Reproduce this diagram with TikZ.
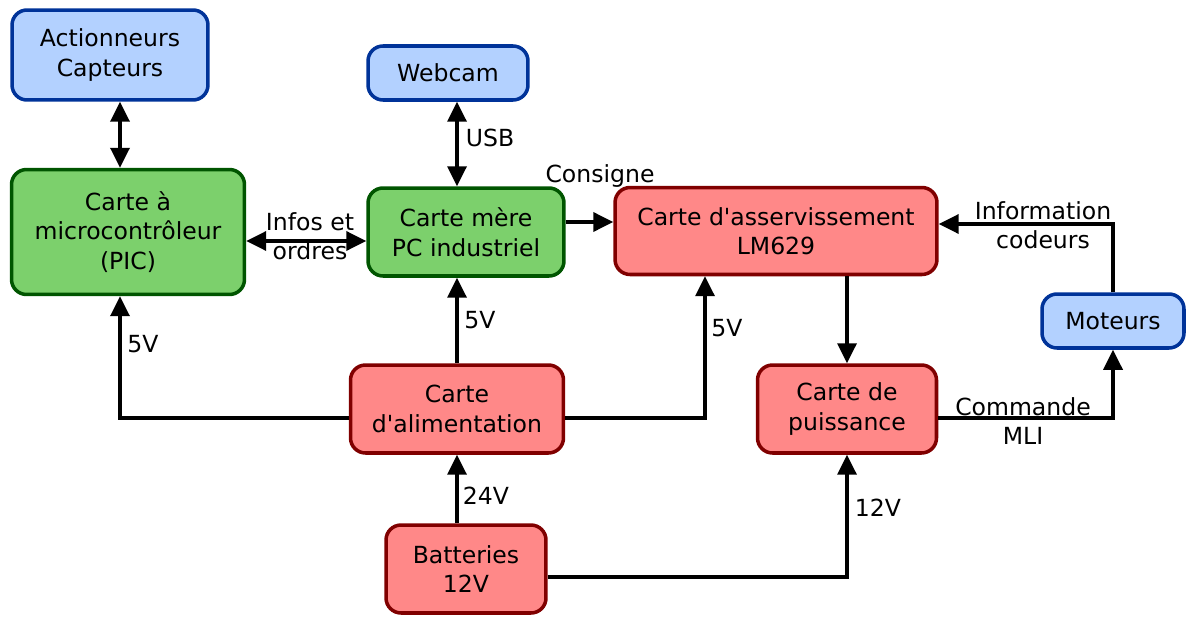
\documentclass[tikz,border=0pt]{standalone}
\usepackage{fontspec}
\setmainfont{DejaVu Sans}[Ligatures=TeXOff]
\usetikzlibrary{arrows.meta}
\definecolor{bleu}{RGB}{179,209,255}
\definecolor{bleufonce}{RGB}{0,51,153}
\definecolor{vert}{RGB}{124,208,108}
\definecolor{vertfonce}{RGB}{0,85,0}
\definecolor{rouge}{RGB}{255,136,136}
\definecolor{rougefonce}{RGB}{128,0,0}
\tikzset{
  bloc/.style={draw, rounded corners=0.3cm, line width=2pt, align=center,
    inner sep=0pt, font=\fontsize{13.4}{16.8}\selectfont},
  capt/.style={bloc, fill=bleu, draw=bleufonce},
  carte/.style={bloc, fill=vert, draw=vertfonce},
  puiss/.style={bloc, fill=rouge, draw=rougefonce},
  fleche/.style={-{Triangle[length=0.4cm,width=0.38cm]}, line width=2pt},
  dfleche/.style={fleche, {Triangle[length=0.4cm,width=0.38cm]}-{Triangle[length=0.4cm,width=0.38cm]}},
  lbl/.style={align=center, inner sep=0pt, font=\fontsize{13.4}{16.8}\selectfont}
}
\begin{document}
\begin{tikzpicture}[x=0.02cm, y=-0.02cm]
      \useasboundingbox (0,0) rectangle (1196,625);
      % blocs
      \node[capt, minimum width=3.92cm, minimum height=1.8cm] (act) at (110,55) {Actionneurs\\Capteurs};
      \node[capt, minimum width=3.2cm, minimum height=1.08cm] (web) at (448,73) {Webcam};
      \node[carte, minimum width=4.66cm, minimum height=2.5cm] (pic) at (128,232) {Carte à\\microcontrôleur\\(PIC)};
      \node[carte, minimum width=3.92cm, minimum height=1.76cm] (pc) at (466,232) {Carte mère\\PC industriel};
      \node[puiss, minimum width=6.44cm, minimum height=1.74cm] (asv) at (776,231) {Carte d'asservissement\\LM629};
      \node[capt, minimum width=2.84cm, minimum height=1.08cm] (mot) at (1113,321) {Moteurs};
      \node[puiss, minimum width=4.26cm, minimum height=1.76cm] (alim) at (457,409) {Carte\\d'alimentation};
      \node[puiss, minimum width=3.58cm, minimum height=1.76cm] (pui) at (847,409) {Carte de\\puissance};
      \node[puiss, minimum width=3.2cm, minimum height=1.76cm] (bat) at (466,569) {Batteries\\12V};
      % reperes des liaisons
      \coordinate (xa) at (120,0);
      \coordinate (xm) at (457,0);
      \coordinate (xs) at (705,0);
      \coordinate (xp) at (847,0);
      \coordinate (ybus) at (0,418);
      \coordinate (ycons) at (0,222);
      \coordinate (yinfo) at (0,224);
      \coordinate (yio) at (0,241);
      \coordinate (ybat) at (0,577);
      % liaisons
      \draw[dfleche] (act.south -| xa) to (pic.north -| xa);
      \draw[dfleche] (web.south -| xm) to (pc.north -| xm);
      \draw[dfleche] (pic.east |- yio) to (pc.west |- yio);
      \draw[fleche] (pc.east |- ycons) to (asv.west |- ycons);
      \draw[fleche] (alim.north -| xm) to (pc.south -| xm);
      \draw[fleche] (alim.west |- ybus) -| (pic.south -| xa);
      \draw[fleche] (alim.east |- ybus) -| (asv.south -| xs);
      \draw[fleche] (asv.south -| xp) to (pui.north -| xp);
      \draw[fleche] (pui.east |- ybus) -| (mot.south);
      \draw[fleche] (mot.north) |- (asv.east |- yinfo);
      \draw[fleche] (bat.north -| xm) to (alim.south -| xm);
      \draw[fleche] (bat.east |- ybat) -| (pui.south -| xp);
      % etiquettes
      \node[lbl] (usb) at (490,138) {USB};
      \node[lbl] (io) at (310,236) {Infos et\\ordres};
      \node[lbl] (cons) at (600,176) {Consigne};
      \node[lbl] (vpc) at (480,320) {5V};
      \node[lbl] (vpic) at (143,344) {5V};
      \node[lbl] (vasv) at (727,328) {5V};
      \node[lbl] (info) at (1043,225) {Information\\codeurs};
      \node[lbl] (cmd) at (1023,421) {Commande\\MLI};
      \node[lbl] (vbat) at (486,496) {24V};
      \node[lbl] (vpui) at (878,508) {12V};
    \end{tikzpicture}
\end{document}
